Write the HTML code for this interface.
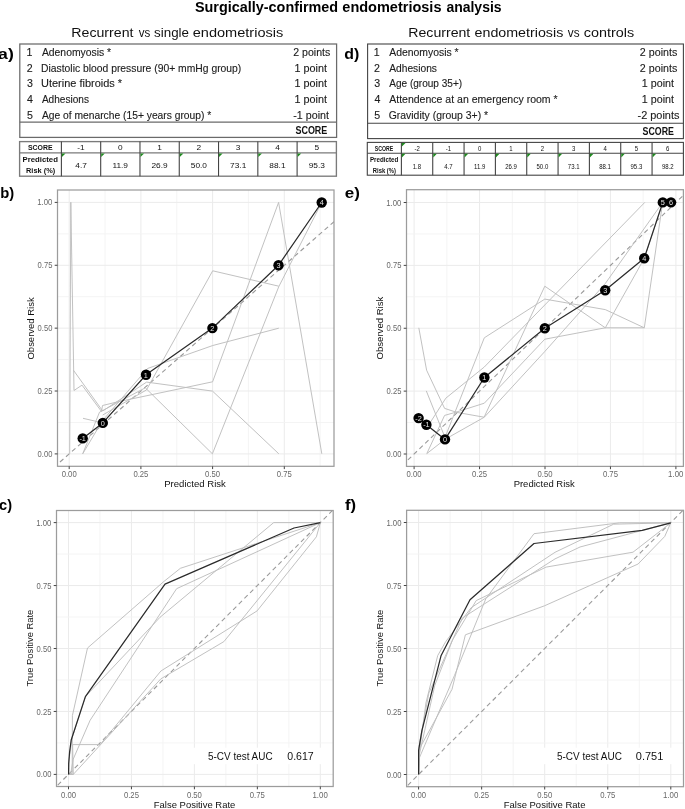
<!DOCTYPE html>
<html><head><meta charset="utf-8"><title>Surgically-confirmed endometriosis analysis</title>
<style>html,body{margin:0;padding:0;background:#fff;overflow:hidden;}svg{display:block;will-change:transform;}text{font-family:"Liberation Sans", sans-serif;}</style>
</head><body>
<svg width="685" height="809" viewBox="0 0 685 809" font-family='"Liberation Sans", sans-serif'>
<rect width="685" height="809" fill="#fff"/>
<text x="194.97" y="11.70" font-size="15.0" font-weight="bold" text-anchor="start" fill="#000" textLength="143.20" lengthAdjust="spacingAndGlyphs">Surgically-confirmed</text>
<text x="342.32" y="11.70" font-size="15.0" font-weight="bold" text-anchor="start" fill="#000" textLength="99.16" lengthAdjust="spacingAndGlyphs">endometriosis</text>
<text x="446.38" y="11.70" font-size="15.0" font-weight="bold" text-anchor="start" fill="#000" textLength="55.21" lengthAdjust="spacingAndGlyphs">analysis</text>
<text x="71.27" y="37.40" font-size="13.6" text-anchor="start" fill="#111" textLength="62.22" lengthAdjust="spacingAndGlyphs">Recurrent</text>
<text x="138.64" y="37.40" font-size="13.6" text-anchor="start" fill="#111" textLength="11.56" lengthAdjust="spacingAndGlyphs">vs</text>
<text x="154.10" y="37.40" font-size="13.6" text-anchor="start" fill="#111" textLength="34.94" lengthAdjust="spacingAndGlyphs">single</text>
<text x="192.72" y="37.40" font-size="13.6" text-anchor="start" fill="#111" textLength="90.60" lengthAdjust="spacingAndGlyphs">endometriosis</text>
<text x="408.27" y="37.30" font-size="13.6" text-anchor="start" fill="#111" textLength="62.01" lengthAdjust="spacingAndGlyphs">Recurrent</text>
<text x="474.53" y="37.30" font-size="13.6" text-anchor="start" fill="#111" textLength="88.77" lengthAdjust="spacingAndGlyphs">endometriosis</text>
<text x="567.84" y="37.30" font-size="13.6" text-anchor="start" fill="#111" textLength="11.77" lengthAdjust="spacingAndGlyphs">vs</text>
<text x="583.72" y="37.30" font-size="13.6" text-anchor="start" fill="#111" textLength="50.40" lengthAdjust="spacingAndGlyphs">controls</text>
<text x="-1.93" y="58.60" font-size="15.5" font-weight="bold" text-anchor="start" fill="#000" textLength="15.70" lengthAdjust="spacingAndGlyphs">a)</text>
<text x="344.26" y="58.60" font-size="15.5" font-weight="bold" text-anchor="start" fill="#000" textLength="15.01" lengthAdjust="spacingAndGlyphs">d)</text>
<text x="0.14" y="198.20" font-size="15.5" font-weight="bold" text-anchor="start" fill="#000" textLength="13.99" lengthAdjust="spacingAndGlyphs">b)</text>
<text x="344.72" y="198.20" font-size="15.5" font-weight="bold" text-anchor="start" fill="#000" textLength="15.12" lengthAdjust="spacingAndGlyphs">e)</text>
<text x="-0.89" y="510.20" font-size="15.5" font-weight="bold" text-anchor="start" fill="#000" textLength="13.00" lengthAdjust="spacingAndGlyphs">c)</text>
<text x="345.05" y="510.20" font-size="15.5" font-weight="bold" text-anchor="start" fill="#000" textLength="11.12" lengthAdjust="spacingAndGlyphs">f)</text>
<rect x="19.80" y="44.00" width="316.80" height="93.40" stroke="#6a6a6a" stroke-width="1.25" fill="none"/>
<line x1="19.80" y1="122.00" x2="336.60" y2="122.00" stroke="#6a6a6a" stroke-width="1.25"/>
<text x="26.50" y="55.70" font-size="10.6" text-anchor="start" fill="#1a1a1a" stroke="#222" stroke-width="0.12">1</text>
<text x="41.90" y="55.70" font-size="10.6" text-anchor="start" fill="#1a1a1a" textLength="69.26" lengthAdjust="spacingAndGlyphs" stroke="#222" stroke-width="0.12">Adenomyosis *</text>
<text x="293.27" y="55.70" font-size="10.6" text-anchor="start" fill="#1a1a1a" textLength="36.97" lengthAdjust="spacingAndGlyphs" stroke="#222" stroke-width="0.12">2 points</text>
<text x="26.77" y="71.60" font-size="10.6" text-anchor="start" fill="#1a1a1a" stroke="#222" stroke-width="0.12">2</text>
<text x="41.07" y="71.60" font-size="10.6" text-anchor="start" fill="#1a1a1a" textLength="200.20" lengthAdjust="spacingAndGlyphs" stroke="#222" stroke-width="0.12">Diastolic blood pressure (90+ mmHg group)</text>
<text x="294.49" y="71.60" font-size="10.6" text-anchor="start" fill="#1a1a1a" textLength="32.49" lengthAdjust="spacingAndGlyphs" stroke="#222" stroke-width="0.12">1 point</text>
<text x="26.88" y="87.40" font-size="10.6" text-anchor="start" fill="#1a1a1a" stroke="#222" stroke-width="0.12">3</text>
<text x="41.08" y="87.40" font-size="10.6" text-anchor="start" fill="#1a1a1a" textLength="80.96" lengthAdjust="spacingAndGlyphs" stroke="#222" stroke-width="0.12">Uterine fibroids *</text>
<text x="294.49" y="87.40" font-size="10.6" text-anchor="start" fill="#1a1a1a" textLength="32.49" lengthAdjust="spacingAndGlyphs" stroke="#222" stroke-width="0.12">1 point</text>
<text x="27.09" y="103.10" font-size="10.6" text-anchor="start" fill="#1a1a1a" stroke="#222" stroke-width="0.12">4</text>
<text x="41.90" y="103.10" font-size="10.6" text-anchor="start" fill="#1a1a1a" textLength="47.05" lengthAdjust="spacingAndGlyphs" stroke="#222" stroke-width="0.12">Adhesions</text>
<text x="294.49" y="103.10" font-size="10.6" text-anchor="start" fill="#1a1a1a" textLength="32.49" lengthAdjust="spacingAndGlyphs" stroke="#222" stroke-width="0.12">1 point</text>
<text x="26.88" y="118.90" font-size="10.6" text-anchor="start" fill="#1a1a1a" stroke="#222" stroke-width="0.12">5</text>
<text x="41.90" y="118.90" font-size="10.6" text-anchor="start" fill="#1a1a1a" textLength="169.42" lengthAdjust="spacingAndGlyphs" stroke="#222" stroke-width="0.12">Age of menarche (15+ years group) *</text>
<text x="293.32" y="118.90" font-size="10.6" text-anchor="start" fill="#1a1a1a" textLength="35.64" lengthAdjust="spacingAndGlyphs" stroke="#222" stroke-width="0.12">-1 point</text>
<text x="295.43" y="133.90" font-size="10.4" font-weight="bold" text-anchor="start" fill="#111" textLength="31.89" lengthAdjust="spacingAndGlyphs">SCORE</text>
<rect x="367.60" y="44.00" width="315.80" height="94.60" stroke="#444" stroke-width="1.1" fill="none"/>
<line x1="367.60" y1="123.30" x2="683.40" y2="123.30" stroke="#444" stroke-width="1.1"/>
<text x="373.81" y="55.70" font-size="10.6" text-anchor="start" fill="#1a1a1a" stroke="#222" stroke-width="0.12">1</text>
<text x="389.20" y="55.70" font-size="10.6" text-anchor="start" fill="#1a1a1a" textLength="69.46" lengthAdjust="spacingAndGlyphs" stroke="#222" stroke-width="0.12">Adenomyosis *</text>
<text x="639.87" y="55.70" font-size="10.6" text-anchor="start" fill="#1a1a1a" textLength="37.38" lengthAdjust="spacingAndGlyphs" stroke="#222" stroke-width="0.12">2 points</text>
<text x="374.07" y="71.60" font-size="10.6" text-anchor="start" fill="#1a1a1a" stroke="#222" stroke-width="0.12">2</text>
<text x="389.20" y="71.60" font-size="10.6" text-anchor="start" fill="#1a1a1a" textLength="47.76" lengthAdjust="spacingAndGlyphs" stroke="#222" stroke-width="0.12">Adhesions</text>
<text x="639.87" y="71.60" font-size="10.6" text-anchor="start" fill="#1a1a1a" textLength="37.38" lengthAdjust="spacingAndGlyphs" stroke="#222" stroke-width="0.12">2 points</text>
<text x="374.18" y="87.40" font-size="10.6" text-anchor="start" fill="#1a1a1a" stroke="#222" stroke-width="0.12">3</text>
<text x="389.20" y="87.40" font-size="10.6" text-anchor="start" fill="#1a1a1a" textLength="72.96" lengthAdjust="spacingAndGlyphs" stroke="#222" stroke-width="0.12">Age (group 35+)</text>
<text x="641.80" y="87.40" font-size="10.6" text-anchor="start" fill="#1a1a1a" textLength="32.18" lengthAdjust="spacingAndGlyphs" stroke="#222" stroke-width="0.12">1 point</text>
<text x="374.39" y="103.10" font-size="10.6" text-anchor="start" fill="#1a1a1a" stroke="#222" stroke-width="0.12">4</text>
<text x="389.20" y="103.10" font-size="10.6" text-anchor="start" fill="#1a1a1a" textLength="168.45" lengthAdjust="spacingAndGlyphs" stroke="#222" stroke-width="0.12">Attendence at an emergency room *</text>
<text x="641.80" y="103.10" font-size="10.6" text-anchor="start" fill="#1a1a1a" textLength="32.18" lengthAdjust="spacingAndGlyphs" stroke="#222" stroke-width="0.12">1 point</text>
<text x="374.18" y="118.90" font-size="10.6" text-anchor="start" fill="#1a1a1a" stroke="#222" stroke-width="0.12">5</text>
<text x="388.68" y="118.90" font-size="10.6" text-anchor="start" fill="#1a1a1a" textLength="99.45" lengthAdjust="spacingAndGlyphs" stroke="#222" stroke-width="0.12">Gravidity (group 3+) *</text>
<text x="637.51" y="118.90" font-size="10.6" text-anchor="start" fill="#1a1a1a" textLength="41.88" lengthAdjust="spacingAndGlyphs" stroke="#222" stroke-width="0.12">-2 points</text>
<text x="642.54" y="134.70" font-size="10.4" font-weight="bold" text-anchor="start" fill="#111" textLength="31.38" lengthAdjust="spacingAndGlyphs">SCORE</text>
<rect x="19.60" y="141.60" width="316.80" height="34.60" stroke="#7a7a7a" stroke-width="1.35" fill="none"/>
<line x1="19.60" y1="152.90" x2="336.40" y2="152.90" stroke="#7a7a7a" stroke-width="1.35"/>
<line x1="61.40" y1="141.60" x2="61.40" y2="176.20" stroke="#444" stroke-width="1.1"/>
<line x1="100.69" y1="141.60" x2="100.69" y2="176.20" stroke="#444" stroke-width="1.1"/>
<line x1="139.97" y1="141.60" x2="139.97" y2="176.20" stroke="#444" stroke-width="1.1"/>
<line x1="179.26" y1="141.60" x2="179.26" y2="176.20" stroke="#444" stroke-width="1.1"/>
<line x1="218.54" y1="141.60" x2="218.54" y2="176.20" stroke="#444" stroke-width="1.1"/>
<line x1="257.83" y1="141.60" x2="257.83" y2="176.20" stroke="#444" stroke-width="1.1"/>
<line x1="297.11" y1="141.60" x2="297.11" y2="176.20" stroke="#444" stroke-width="1.1"/>
<text x="27.99" y="150.10" font-size="7.8" font-weight="bold" text-anchor="start" fill="#111" textLength="24.66" lengthAdjust="spacingAndGlyphs">SCORE</text>
<text x="22.49" y="161.70" font-size="7.5" font-weight="bold" text-anchor="start" fill="#111" textLength="35.43" lengthAdjust="spacingAndGlyphs">Predicted</text>
<text x="26.02" y="172.80" font-size="7.5" font-weight="bold" text-anchor="start" fill="#111" textLength="29.15" lengthAdjust="spacingAndGlyphs">Risk (%)</text>
<text x="77.34" y="150.20" font-size="7.7" text-anchor="start" fill="#111" textLength="7.39" lengthAdjust="spacingAndGlyphs">-1</text>
<text x="75.39" y="168.20" font-size="7.7" text-anchor="start" fill="#111" textLength="11.56" lengthAdjust="spacingAndGlyphs">4.7</text>
<path d="M61.90 153.50 L65.50 153.50 L61.90 157.10 Z" fill="#1f8a1f"/>
<text x="118.00" y="150.20" font-size="7.7" text-anchor="start" fill="#111" textLength="4.63" lengthAdjust="spacingAndGlyphs">0</text>
<text x="112.43" y="168.20" font-size="7.7" text-anchor="start" fill="#111" textLength="15.57" lengthAdjust="spacingAndGlyphs">11.9</text>
<path d="M101.19 153.50 L104.79 153.50 L101.19 157.10 Z" fill="#1f8a1f"/>
<text x="157.18" y="150.20" font-size="7.7" text-anchor="start" fill="#111" textLength="4.63" lengthAdjust="spacingAndGlyphs">1</text>
<text x="151.51" y="168.20" font-size="7.7" text-anchor="start" fill="#111" textLength="16.19" lengthAdjust="spacingAndGlyphs">26.9</text>
<path d="M140.47 153.50 L144.07 153.50 L140.47 157.10 Z" fill="#1f8a1f"/>
<text x="196.59" y="150.20" font-size="7.7" text-anchor="start" fill="#111" textLength="4.63" lengthAdjust="spacingAndGlyphs">2</text>
<text x="190.79" y="168.20" font-size="7.7" text-anchor="start" fill="#111" textLength="16.19" lengthAdjust="spacingAndGlyphs">50.0</text>
<path d="M179.76 153.50 L183.36 153.50 L179.76 157.10 Z" fill="#1f8a1f"/>
<text x="235.88" y="150.20" font-size="7.7" text-anchor="start" fill="#111" textLength="4.63" lengthAdjust="spacingAndGlyphs">3</text>
<text x="230.08" y="168.20" font-size="7.7" text-anchor="start" fill="#111" textLength="16.19" lengthAdjust="spacingAndGlyphs">73.1</text>
<path d="M219.04 153.50 L222.64 153.50 L219.04 157.10 Z" fill="#1f8a1f"/>
<text x="275.21" y="150.20" font-size="7.7" text-anchor="start" fill="#111" textLength="4.63" lengthAdjust="spacingAndGlyphs">4</text>
<text x="269.38" y="168.20" font-size="7.7" text-anchor="start" fill="#111" textLength="16.19" lengthAdjust="spacingAndGlyphs">88.1</text>
<path d="M258.33 153.50 L261.93 153.50 L258.33 157.10 Z" fill="#1f8a1f"/>
<text x="314.45" y="150.20" font-size="7.7" text-anchor="start" fill="#111" textLength="4.63" lengthAdjust="spacingAndGlyphs">5</text>
<text x="308.65" y="168.20" font-size="7.7" text-anchor="start" fill="#111" textLength="16.19" lengthAdjust="spacingAndGlyphs">95.3</text>
<path d="M297.61 153.50 L301.21 153.50 L297.61 157.10 Z" fill="#1f8a1f"/>
<rect x="367.30" y="142.40" width="316.10" height="32.80" stroke="#444" stroke-width="1.1" fill="none"/>
<line x1="367.30" y1="153.20" x2="683.40" y2="153.20" stroke="#444" stroke-width="1.1"/>
<line x1="401.40" y1="142.40" x2="401.40" y2="175.20" stroke="#444" stroke-width="1.1"/>
<line x1="432.73" y1="142.40" x2="432.73" y2="175.20" stroke="#444" stroke-width="1.1"/>
<line x1="464.07" y1="142.40" x2="464.07" y2="175.20" stroke="#444" stroke-width="1.1"/>
<line x1="495.40" y1="142.40" x2="495.40" y2="175.20" stroke="#444" stroke-width="1.1"/>
<line x1="526.73" y1="142.40" x2="526.73" y2="175.20" stroke="#444" stroke-width="1.1"/>
<line x1="558.07" y1="142.40" x2="558.07" y2="175.20" stroke="#444" stroke-width="1.1"/>
<line x1="589.40" y1="142.40" x2="589.40" y2="175.20" stroke="#444" stroke-width="1.1"/>
<line x1="620.73" y1="142.40" x2="620.73" y2="175.20" stroke="#444" stroke-width="1.1"/>
<line x1="652.07" y1="142.40" x2="652.07" y2="175.20" stroke="#444" stroke-width="1.1"/>
<text x="374.74" y="150.90" font-size="7.4" font-weight="bold" text-anchor="start" fill="#111" textLength="18.44" lengthAdjust="spacingAndGlyphs">SCORE</text>
<text x="369.89" y="161.60" font-size="7.4" font-weight="bold" text-anchor="start" fill="#111" textLength="28.42" lengthAdjust="spacingAndGlyphs">Predicted</text>
<text x="372.82" y="172.70" font-size="7.4" font-weight="bold" text-anchor="start" fill="#111" textLength="23.07" lengthAdjust="spacingAndGlyphs">Risk (%)</text>
<text x="414.40" y="151.00" font-size="7.0" text-anchor="start" fill="#111" textLength="5.35" lengthAdjust="spacingAndGlyphs">-2</text>
<text x="412.78" y="168.50" font-size="7.0" text-anchor="start" fill="#111" textLength="8.37" lengthAdjust="spacingAndGlyphs">1.8</text>
<path d="M401.90 153.80 L405.50 153.80 L401.90 157.40 Z" fill="#1f8a1f"/>
<path d="M401.90 142.90 L405.50 142.90 L401.90 146.50 Z" fill="#1f8a1f"/>
<text x="445.72" y="151.00" font-size="7.0" text-anchor="start" fill="#111" textLength="5.35" lengthAdjust="spacingAndGlyphs">-1</text>
<text x="444.31" y="168.50" font-size="7.0" text-anchor="start" fill="#111" textLength="8.37" lengthAdjust="spacingAndGlyphs">4.7</text>
<path d="M433.23 153.80 L436.83 153.80 L433.23 157.40 Z" fill="#1f8a1f"/>
<text x="478.05" y="151.00" font-size="7.0" text-anchor="start" fill="#111" textLength="3.35" lengthAdjust="spacingAndGlyphs">0</text>
<text x="474.01" y="168.50" font-size="7.0" text-anchor="start" fill="#111" textLength="11.27" lengthAdjust="spacingAndGlyphs">11.9</text>
<path d="M464.57 153.80 L468.17 153.80 L464.57 157.40 Z" fill="#1f8a1f"/>
<text x="509.31" y="151.00" font-size="7.0" text-anchor="start" fill="#111" textLength="3.35" lengthAdjust="spacingAndGlyphs">1</text>
<text x="505.20" y="168.50" font-size="7.0" text-anchor="start" fill="#111" textLength="11.72" lengthAdjust="spacingAndGlyphs">26.9</text>
<path d="M495.90 153.80 L499.50 153.80 L495.90 157.40 Z" fill="#1f8a1f"/>
<text x="540.73" y="151.00" font-size="7.0" text-anchor="start" fill="#111" textLength="3.35" lengthAdjust="spacingAndGlyphs">2</text>
<text x="536.53" y="168.50" font-size="7.0" text-anchor="start" fill="#111" textLength="11.72" lengthAdjust="spacingAndGlyphs">50.0</text>
<path d="M527.23 153.80 L530.83 153.80 L527.23 157.40 Z" fill="#1f8a1f"/>
<text x="572.06" y="151.00" font-size="7.0" text-anchor="start" fill="#111" textLength="3.35" lengthAdjust="spacingAndGlyphs">3</text>
<text x="567.86" y="168.50" font-size="7.0" text-anchor="start" fill="#111" textLength="11.72" lengthAdjust="spacingAndGlyphs">73.1</text>
<path d="M558.57 153.80 L562.17 153.80 L558.57 157.40 Z" fill="#1f8a1f"/>
<text x="603.43" y="151.00" font-size="7.0" text-anchor="start" fill="#111" textLength="3.35" lengthAdjust="spacingAndGlyphs">4</text>
<text x="599.21" y="168.50" font-size="7.0" text-anchor="start" fill="#111" textLength="11.72" lengthAdjust="spacingAndGlyphs">88.1</text>
<path d="M589.90 153.80 L593.50 153.80 L589.90 157.40 Z" fill="#1f8a1f"/>
<text x="634.73" y="151.00" font-size="7.0" text-anchor="start" fill="#111" textLength="3.35" lengthAdjust="spacingAndGlyphs">5</text>
<text x="630.53" y="168.50" font-size="7.0" text-anchor="start" fill="#111" textLength="11.72" lengthAdjust="spacingAndGlyphs">95.3</text>
<path d="M621.23 153.80 L624.83 153.80 L621.23 157.40 Z" fill="#1f8a1f"/>
<text x="666.03" y="151.00" font-size="7.0" text-anchor="start" fill="#111" textLength="3.35" lengthAdjust="spacingAndGlyphs">6</text>
<text x="661.89" y="168.50" font-size="7.0" text-anchor="start" fill="#111" textLength="11.72" lengthAdjust="spacingAndGlyphs">98.2</text>
<path d="M652.57 153.80 L656.17 153.80 L652.57 157.40 Z" fill="#1f8a1f"/>
<clipPath id="cp1"><rect x="57.5" y="190.0" width="276.50" height="276.30"/></clipPath>
<g clip-path="url(#cp1)">
<line x1="69.20" y1="190.00" x2="69.20" y2="466.30" stroke="#ebebeb" stroke-width="1.0"/>
<line x1="105.05" y1="190.00" x2="105.05" y2="466.30" stroke="#f3f3f3" stroke-width="0.9"/>
<line x1="140.90" y1="190.00" x2="140.90" y2="466.30" stroke="#ebebeb" stroke-width="1.0"/>
<line x1="176.75" y1="190.00" x2="176.75" y2="466.30" stroke="#f3f3f3" stroke-width="0.9"/>
<line x1="212.60" y1="190.00" x2="212.60" y2="466.30" stroke="#ebebeb" stroke-width="1.0"/>
<line x1="248.45" y1="190.00" x2="248.45" y2="466.30" stroke="#f3f3f3" stroke-width="0.9"/>
<line x1="284.30" y1="190.00" x2="284.30" y2="466.30" stroke="#ebebeb" stroke-width="1.0"/>
<line x1="320.15" y1="190.00" x2="320.15" y2="466.30" stroke="#f3f3f3" stroke-width="0.9"/>
<line x1="57.50" y1="453.90" x2="334.00" y2="453.90" stroke="#ebebeb" stroke-width="1.0"/>
<line x1="57.50" y1="422.46" x2="334.00" y2="422.46" stroke="#f3f3f3" stroke-width="0.9"/>
<line x1="57.50" y1="391.02" x2="334.00" y2="391.02" stroke="#ebebeb" stroke-width="1.0"/>
<line x1="57.50" y1="359.59" x2="334.00" y2="359.59" stroke="#f3f3f3" stroke-width="0.9"/>
<line x1="57.50" y1="328.15" x2="334.00" y2="328.15" stroke="#ebebeb" stroke-width="1.0"/>
<line x1="57.50" y1="296.71" x2="334.00" y2="296.71" stroke="#f3f3f3" stroke-width="0.9"/>
<line x1="57.50" y1="265.27" x2="334.00" y2="265.27" stroke="#ebebeb" stroke-width="1.0"/>
<line x1="57.50" y1="233.84" x2="334.00" y2="233.84" stroke="#f3f3f3" stroke-width="0.9"/>
<line x1="57.50" y1="202.40" x2="334.00" y2="202.40" stroke="#ebebeb" stroke-width="1.0"/>
<line x1="11.84" y1="504.20" x2="413.36" y2="152.10" stroke="#9a9a9a" stroke-width="1.1" stroke-dasharray="4.6 3.4"/>
<polyline points="69.7,453.8 70.8,202.3 74.0,390.5 82.0,385.1 101.5,411.5 102.5,405.5 117.0,402.0 212.6,381.8 278.6,202.4 321.8,453.8" fill="none" stroke="#bebebe" stroke-width="0.95" stroke-linejoin="round"/>
<polyline points="73.5,370.3 102.7,411.0 146.6,382.1 212.5,391.1 278.8,453.8" fill="none" stroke="#bebebe" stroke-width="0.95" stroke-linejoin="round"/>
<polyline points="83.0,418.3 102.7,422.9 146.0,374.7" fill="none" stroke="#bebebe" stroke-width="0.95" stroke-linejoin="round"/>
<polyline points="82.7,453.8 99.5,412.2 145.3,387.8 212.4,453.8 278.8,286.6 321.8,202.4" fill="none" stroke="#bebebe" stroke-width="0.95" stroke-linejoin="round"/>
<polyline points="82.7,453.8 102.4,420.8 147.5,368.5 212.8,345.5 278.8,328.2" fill="none" stroke="#bebebe" stroke-width="0.95" stroke-linejoin="round"/>
<polyline points="102.7,415.0 146.4,390.0 212.7,270.8 278.8,286.2" fill="none" stroke="#bebebe" stroke-width="0.95" stroke-linejoin="round"/>
<polyline points="82.7,438.4 102.8,422.9 146.0,374.8 212.4,328.1 278.5,265.3 321.7,202.5" fill="none" stroke="#2b2b2b" stroke-width="1.25" stroke-linejoin="round"/>
</g>
<rect x="57.50" y="190.00" width="276.50" height="276.30" stroke="#9c9c9c" stroke-width="1.25" fill="none"/>
<line x1="69.20" y1="466.30" x2="69.20" y2="469.10" stroke="#444" stroke-width="1"/>
<text x="61.69" y="477.30" font-size="8.6" text-anchor="start" fill="#686868" textLength="14.99" lengthAdjust="spacingAndGlyphs">0.00</text>
<line x1="140.90" y1="466.30" x2="140.90" y2="469.10" stroke="#444" stroke-width="1"/>
<text x="133.39" y="477.30" font-size="8.6" text-anchor="start" fill="#686868" textLength="15.03" lengthAdjust="spacingAndGlyphs">0.25</text>
<line x1="212.60" y1="466.30" x2="212.60" y2="469.10" stroke="#444" stroke-width="1"/>
<text x="205.09" y="477.30" font-size="8.6" text-anchor="start" fill="#686868" textLength="14.99" lengthAdjust="spacingAndGlyphs">0.50</text>
<line x1="284.30" y1="466.30" x2="284.30" y2="469.10" stroke="#444" stroke-width="1"/>
<text x="276.79" y="477.30" font-size="8.6" text-anchor="start" fill="#686868" textLength="15.03" lengthAdjust="spacingAndGlyphs">0.75</text>
<line x1="54.70" y1="453.90" x2="57.50" y2="453.90" stroke="#444" stroke-width="1"/>
<text x="37.60" y="456.95" font-size="8.6" text-anchor="start" fill="#686868" textLength="14.78" lengthAdjust="spacingAndGlyphs">0.00</text>
<line x1="54.70" y1="391.02" x2="57.50" y2="391.02" stroke="#444" stroke-width="1"/>
<text x="37.60" y="394.07" font-size="8.6" text-anchor="start" fill="#686868" textLength="14.82" lengthAdjust="spacingAndGlyphs">0.25</text>
<line x1="54.70" y1="328.15" x2="57.50" y2="328.15" stroke="#444" stroke-width="1"/>
<text x="37.60" y="331.20" font-size="8.6" text-anchor="start" fill="#686868" textLength="14.78" lengthAdjust="spacingAndGlyphs">0.50</text>
<line x1="54.70" y1="265.27" x2="57.50" y2="265.27" stroke="#444" stroke-width="1"/>
<text x="37.60" y="268.32" font-size="8.6" text-anchor="start" fill="#686868" textLength="14.82" lengthAdjust="spacingAndGlyphs">0.75</text>
<line x1="54.70" y1="202.40" x2="57.50" y2="202.40" stroke="#444" stroke-width="1"/>
<text x="37.32" y="205.45" font-size="8.6" text-anchor="start" fill="#686868" textLength="15.06" lengthAdjust="spacingAndGlyphs">1.00</text>
<text x="164.23" y="487.30" font-size="9.8" text-anchor="start" fill="#111" textLength="61.68" lengthAdjust="spacingAndGlyphs">Predicted Risk</text>
<text transform="translate(34.20,359.10) rotate(-90)" x="-0.43" y="0" font-size="9.8" fill="#111" textLength="62.21" lengthAdjust="spacingAndGlyphs">Observed Risk</text>
<circle cx="82.7" cy="438.4" r="5.2" fill="#000"/>
<text x="79.44" y="441.15" font-size="7.7" text-anchor="start" fill="#e2e2e2" textLength="6.50" lengthAdjust="spacingAndGlyphs">-1</text>
<circle cx="102.8" cy="422.9" r="5.2" fill="#000"/>
<text x="100.75" y="425.65" font-size="7.7" text-anchor="start" fill="#e2e2e2" textLength="4.07" lengthAdjust="spacingAndGlyphs">0</text>
<circle cx="146.0" cy="374.8" r="5.2" fill="#000"/>
<text x="143.86" y="377.55" font-size="7.7" text-anchor="start" fill="#e2e2e2" textLength="4.07" lengthAdjust="spacingAndGlyphs">1</text>
<circle cx="212.4" cy="328.1" r="5.2" fill="#000"/>
<text x="210.37" y="330.85" font-size="7.7" text-anchor="start" fill="#e2e2e2" textLength="4.07" lengthAdjust="spacingAndGlyphs">2</text>
<circle cx="278.5" cy="265.3" r="5.2" fill="#000"/>
<text x="276.47" y="268.05" font-size="7.7" text-anchor="start" fill="#e2e2e2" textLength="4.07" lengthAdjust="spacingAndGlyphs">3</text>
<circle cx="321.7" cy="202.5" r="5.2" fill="#000"/>
<text x="319.71" y="205.25" font-size="7.7" text-anchor="start" fill="#e2e2e2" textLength="4.07" lengthAdjust="spacingAndGlyphs">4</text>
<clipPath id="cp2"><rect x="406.5" y="189.7" width="276.90" height="276.70"/></clipPath>
<g clip-path="url(#cp2)">
<line x1="414.10" y1="189.70" x2="414.10" y2="466.40" stroke="#ebebeb" stroke-width="1.0"/>
<line x1="446.83" y1="189.70" x2="446.83" y2="466.40" stroke="#f3f3f3" stroke-width="0.9"/>
<line x1="479.55" y1="189.70" x2="479.55" y2="466.40" stroke="#ebebeb" stroke-width="1.0"/>
<line x1="512.28" y1="189.70" x2="512.28" y2="466.40" stroke="#f3f3f3" stroke-width="0.9"/>
<line x1="545.00" y1="189.70" x2="545.00" y2="466.40" stroke="#ebebeb" stroke-width="1.0"/>
<line x1="577.73" y1="189.70" x2="577.73" y2="466.40" stroke="#f3f3f3" stroke-width="0.9"/>
<line x1="610.45" y1="189.70" x2="610.45" y2="466.40" stroke="#ebebeb" stroke-width="1.0"/>
<line x1="643.18" y1="189.70" x2="643.18" y2="466.40" stroke="#f3f3f3" stroke-width="0.9"/>
<line x1="675.90" y1="189.70" x2="675.90" y2="466.40" stroke="#ebebeb" stroke-width="1.0"/>
<line x1="406.50" y1="454.00" x2="683.40" y2="454.00" stroke="#ebebeb" stroke-width="1.0"/>
<line x1="406.50" y1="422.56" x2="683.40" y2="422.56" stroke="#f3f3f3" stroke-width="0.9"/>
<line x1="406.50" y1="391.12" x2="683.40" y2="391.12" stroke="#ebebeb" stroke-width="1.0"/>
<line x1="406.50" y1="359.69" x2="683.40" y2="359.69" stroke="#f3f3f3" stroke-width="0.9"/>
<line x1="406.50" y1="328.25" x2="683.40" y2="328.25" stroke="#ebebeb" stroke-width="1.0"/>
<line x1="406.50" y1="296.81" x2="683.40" y2="296.81" stroke="#f3f3f3" stroke-width="0.9"/>
<line x1="406.50" y1="265.38" x2="683.40" y2="265.38" stroke="#ebebeb" stroke-width="1.0"/>
<line x1="406.50" y1="233.94" x2="683.40" y2="233.94" stroke="#f3f3f3" stroke-width="0.9"/>
<line x1="406.50" y1="202.50" x2="683.40" y2="202.50" stroke="#ebebeb" stroke-width="1.0"/>
<line x1="361.74" y1="504.30" x2="728.26" y2="152.20" stroke="#9a9a9a" stroke-width="1.1" stroke-dasharray="4.6 3.4"/>
<polyline points="418.8,327.8 426.6,370.2 444.6,408.4 456.9,412.4 484.1,417.2 544.8,286.2 605.3,327.8 644.3,327.8 662.7,202.4" fill="none" stroke="#bebebe" stroke-width="0.95" stroke-linejoin="round"/>
<polyline points="426.3,390.9 445.0,437.5 484.3,337.8 544.8,299.1 605.3,309.6 644.3,327.8" fill="none" stroke="#bebebe" stroke-width="0.95" stroke-linejoin="round"/>
<polyline points="426.8,453.6 444.6,415.4 456.9,411.9 484.3,403.2 544.8,339.2 605.3,327.8 644.3,258.3 662.7,202.4" fill="none" stroke="#bebebe" stroke-width="0.95" stroke-linejoin="round"/>
<polyline points="428.0,426.0 445.8,398.2 484.3,367.0 644.8,202.4" fill="none" stroke="#bebebe" stroke-width="0.95" stroke-linejoin="round"/>
<polyline points="426.8,453.6 445.1,439.3 484.3,417.2 544.8,351.5 605.3,283.5 662.7,202.4" fill="none" stroke="#bebebe" stroke-width="0.95" stroke-linejoin="round"/>
<polyline points="418.6,418.1 426.4,424.7 445.0,439.4 484.4,377.5 544.8,328.2 605.2,290.2 644.2,258.3 662.8,202.4 671.0,202.4" fill="none" stroke="#2b2b2b" stroke-width="1.25" stroke-linejoin="round"/>
</g>
<rect x="406.50" y="189.70" width="276.90" height="276.70" stroke="#9c9c9c" stroke-width="1.25" fill="none"/>
<line x1="414.10" y1="466.40" x2="414.10" y2="469.20" stroke="#444" stroke-width="1"/>
<text x="406.59" y="477.40" font-size="8.6" text-anchor="start" fill="#686868" textLength="14.99" lengthAdjust="spacingAndGlyphs">0.00</text>
<line x1="479.55" y1="466.40" x2="479.55" y2="469.20" stroke="#444" stroke-width="1"/>
<text x="472.04" y="477.40" font-size="8.6" text-anchor="start" fill="#686868" textLength="15.03" lengthAdjust="spacingAndGlyphs">0.25</text>
<line x1="545.00" y1="466.40" x2="545.00" y2="469.20" stroke="#444" stroke-width="1"/>
<text x="537.49" y="477.40" font-size="8.6" text-anchor="start" fill="#686868" textLength="14.99" lengthAdjust="spacingAndGlyphs">0.50</text>
<line x1="610.45" y1="466.40" x2="610.45" y2="469.20" stroke="#444" stroke-width="1"/>
<text x="602.94" y="477.40" font-size="8.6" text-anchor="start" fill="#686868" textLength="15.03" lengthAdjust="spacingAndGlyphs">0.75</text>
<line x1="675.90" y1="466.40" x2="675.90" y2="469.20" stroke="#444" stroke-width="1"/>
<text x="668.11" y="477.40" font-size="8.6" text-anchor="start" fill="#686868" textLength="15.27" lengthAdjust="spacingAndGlyphs">1.00</text>
<line x1="403.70" y1="454.00" x2="406.50" y2="454.00" stroke="#444" stroke-width="1"/>
<text x="386.60" y="457.05" font-size="8.6" text-anchor="start" fill="#686868" textLength="14.78" lengthAdjust="spacingAndGlyphs">0.00</text>
<line x1="403.70" y1="391.12" x2="406.50" y2="391.12" stroke="#444" stroke-width="1"/>
<text x="386.60" y="394.18" font-size="8.6" text-anchor="start" fill="#686868" textLength="14.82" lengthAdjust="spacingAndGlyphs">0.25</text>
<line x1="403.70" y1="328.25" x2="406.50" y2="328.25" stroke="#444" stroke-width="1"/>
<text x="386.60" y="331.30" font-size="8.6" text-anchor="start" fill="#686868" textLength="14.78" lengthAdjust="spacingAndGlyphs">0.50</text>
<line x1="403.70" y1="265.38" x2="406.50" y2="265.38" stroke="#444" stroke-width="1"/>
<text x="386.60" y="268.43" font-size="8.6" text-anchor="start" fill="#686868" textLength="14.82" lengthAdjust="spacingAndGlyphs">0.75</text>
<line x1="403.70" y1="202.50" x2="406.50" y2="202.50" stroke="#444" stroke-width="1"/>
<text x="386.32" y="205.55" font-size="8.6" text-anchor="start" fill="#686868" textLength="15.06" lengthAdjust="spacingAndGlyphs">1.00</text>
<text x="513.64" y="487.30" font-size="9.8" text-anchor="start" fill="#111" textLength="61.18" lengthAdjust="spacingAndGlyphs">Predicted Risk</text>
<text transform="translate(383.40,359.00) rotate(-90)" x="-0.43" y="0" font-size="9.8" fill="#111" textLength="62.71" lengthAdjust="spacingAndGlyphs">Observed Risk</text>
<circle cx="418.6" cy="418.1" r="5.2" fill="#000"/>
<text x="415.36" y="420.85" font-size="7.7" text-anchor="start" fill="#e2e2e2" textLength="6.50" lengthAdjust="spacingAndGlyphs">-2</text>
<circle cx="426.4" cy="424.7" r="5.2" fill="#000"/>
<text x="423.14" y="427.45" font-size="7.7" text-anchor="start" fill="#e2e2e2" textLength="6.50" lengthAdjust="spacingAndGlyphs">-1</text>
<circle cx="445.0" cy="439.4" r="5.2" fill="#000"/>
<text x="442.95" y="442.15" font-size="7.7" text-anchor="start" fill="#e2e2e2" textLength="4.07" lengthAdjust="spacingAndGlyphs">0</text>
<circle cx="484.4" cy="377.5" r="5.2" fill="#000"/>
<text x="482.26" y="380.25" font-size="7.7" text-anchor="start" fill="#e2e2e2" textLength="4.07" lengthAdjust="spacingAndGlyphs">1</text>
<circle cx="544.8" cy="328.2" r="5.2" fill="#000"/>
<text x="542.77" y="330.95" font-size="7.7" text-anchor="start" fill="#e2e2e2" textLength="4.07" lengthAdjust="spacingAndGlyphs">2</text>
<circle cx="605.2" cy="290.2" r="5.2" fill="#000"/>
<text x="603.17" y="292.95" font-size="7.7" text-anchor="start" fill="#e2e2e2" textLength="4.07" lengthAdjust="spacingAndGlyphs">3</text>
<circle cx="644.2" cy="258.3" r="5.2" fill="#000"/>
<text x="642.21" y="261.05" font-size="7.7" text-anchor="start" fill="#e2e2e2" textLength="4.07" lengthAdjust="spacingAndGlyphs">4</text>
<circle cx="662.8" cy="202.4" r="5.2" fill="#000"/>
<text x="660.77" y="205.15" font-size="7.7" text-anchor="start" fill="#e2e2e2" textLength="4.07" lengthAdjust="spacingAndGlyphs">5</text>
<circle cx="671.0" cy="202.4" r="5.2" fill="#000"/>
<text x="668.93" y="205.15" font-size="7.7" text-anchor="start" fill="#e2e2e2" textLength="4.07" lengthAdjust="spacingAndGlyphs">6</text>
<clipPath id="cp3"><rect x="56.5" y="510.5" width="276.70" height="276.00"/></clipPath>
<g clip-path="url(#cp3)">
<line x1="68.50" y1="510.50" x2="68.50" y2="786.50" stroke="#ebebeb" stroke-width="1.0"/>
<line x1="99.97" y1="510.50" x2="99.97" y2="786.50" stroke="#f3f3f3" stroke-width="0.9"/>
<line x1="131.45" y1="510.50" x2="131.45" y2="786.50" stroke="#ebebeb" stroke-width="1.0"/>
<line x1="162.93" y1="510.50" x2="162.93" y2="786.50" stroke="#f3f3f3" stroke-width="0.9"/>
<line x1="194.40" y1="510.50" x2="194.40" y2="786.50" stroke="#ebebeb" stroke-width="1.0"/>
<line x1="225.88" y1="510.50" x2="225.88" y2="786.50" stroke="#f3f3f3" stroke-width="0.9"/>
<line x1="257.35" y1="510.50" x2="257.35" y2="786.50" stroke="#ebebeb" stroke-width="1.0"/>
<line x1="288.83" y1="510.50" x2="288.83" y2="786.50" stroke="#f3f3f3" stroke-width="0.9"/>
<line x1="320.30" y1="510.50" x2="320.30" y2="786.50" stroke="#ebebeb" stroke-width="1.0"/>
<line x1="56.50" y1="774.40" x2="333.20" y2="774.40" stroke="#ebebeb" stroke-width="1.0"/>
<line x1="56.50" y1="742.92" x2="333.20" y2="742.92" stroke="#f3f3f3" stroke-width="0.9"/>
<line x1="56.50" y1="711.45" x2="333.20" y2="711.45" stroke="#ebebeb" stroke-width="1.0"/>
<line x1="56.50" y1="679.97" x2="333.20" y2="679.97" stroke="#f3f3f3" stroke-width="0.9"/>
<line x1="56.50" y1="648.50" x2="333.20" y2="648.50" stroke="#ebebeb" stroke-width="1.0"/>
<line x1="56.50" y1="617.02" x2="333.20" y2="617.02" stroke="#f3f3f3" stroke-width="0.9"/>
<line x1="56.50" y1="585.55" x2="333.20" y2="585.55" stroke="#ebebeb" stroke-width="1.0"/>
<line x1="56.50" y1="554.07" x2="333.20" y2="554.07" stroke="#f3f3f3" stroke-width="0.9"/>
<line x1="56.50" y1="522.60" x2="333.20" y2="522.60" stroke="#ebebeb" stroke-width="1.0"/>
<rect x="186.0" y="747.7" width="147.0" height="16.5" fill="#fff"/>
<line x1="18.14" y1="824.76" x2="370.66" y2="472.24" stroke="#9a9a9a" stroke-width="1.1" stroke-dasharray="4.6 3.4"/>
<polyline points="68.5,774.4 72.2,773.5 72.4,715.6 87.5,648.0 164.1,581.3 180.4,568.3 320.4,522.6" fill="none" stroke="#bebebe" stroke-width="0.95" stroke-linejoin="round"/>
<polyline points="68.5,774.4 70.6,774.4 73.2,759.2 90.1,720.3 176.6,588.7 320.4,522.6" fill="none" stroke="#bebebe" stroke-width="0.95" stroke-linejoin="round"/>
<polyline points="68.5,774.4 69.0,760.0 72.0,738.0 85.6,696.4 160.0,617.3 273.7,522.6 320.4,522.6" fill="none" stroke="#bebebe" stroke-width="0.95" stroke-linejoin="round"/>
<polyline points="68.5,774.4 73.3,774.4 72.6,744.6 100.1,744.6 160.9,671.0 257.1,610.9 316.4,536.8 320.4,522.6" fill="none" stroke="#bebebe" stroke-width="0.95" stroke-linejoin="round"/>
<polyline points="68.5,774.4 73.3,774.4 160.9,678.8 223.9,641.6 320.4,522.6" fill="none" stroke="#bebebe" stroke-width="0.95" stroke-linejoin="round"/>
<polyline points="68.6,774.4 68.7,763.5 69.6,752.0 71.2,740.0 85.4,696.6 165.0,584.1 294.0,528.0 320.4,522.6" fill="none" stroke="#2b2b2b" stroke-width="1.25" stroke-linejoin="round"/>
</g>
<rect x="56.50" y="510.50" width="276.70" height="276.00" stroke="#9c9c9c" stroke-width="1.25" fill="none"/>
<line x1="68.50" y1="786.50" x2="68.50" y2="789.30" stroke="#444" stroke-width="1"/>
<text x="60.99" y="797.50" font-size="8.6" text-anchor="start" fill="#686868" textLength="14.99" lengthAdjust="spacingAndGlyphs">0.00</text>
<line x1="131.45" y1="786.50" x2="131.45" y2="789.30" stroke="#444" stroke-width="1"/>
<text x="123.94" y="797.50" font-size="8.6" text-anchor="start" fill="#686868" textLength="15.03" lengthAdjust="spacingAndGlyphs">0.25</text>
<line x1="194.40" y1="786.50" x2="194.40" y2="789.30" stroke="#444" stroke-width="1"/>
<text x="186.89" y="797.50" font-size="8.6" text-anchor="start" fill="#686868" textLength="14.99" lengthAdjust="spacingAndGlyphs">0.50</text>
<line x1="257.35" y1="786.50" x2="257.35" y2="789.30" stroke="#444" stroke-width="1"/>
<text x="249.84" y="797.50" font-size="8.6" text-anchor="start" fill="#686868" textLength="15.03" lengthAdjust="spacingAndGlyphs">0.75</text>
<line x1="320.30" y1="786.50" x2="320.30" y2="789.30" stroke="#444" stroke-width="1"/>
<text x="312.51" y="797.50" font-size="8.6" text-anchor="start" fill="#686868" textLength="15.27" lengthAdjust="spacingAndGlyphs">1.00</text>
<line x1="53.70" y1="774.40" x2="56.50" y2="774.40" stroke="#444" stroke-width="1"/>
<text x="36.60" y="777.45" font-size="8.6" text-anchor="start" fill="#686868" textLength="14.78" lengthAdjust="spacingAndGlyphs">0.00</text>
<line x1="53.70" y1="711.45" x2="56.50" y2="711.45" stroke="#444" stroke-width="1"/>
<text x="36.60" y="714.50" font-size="8.6" text-anchor="start" fill="#686868" textLength="14.82" lengthAdjust="spacingAndGlyphs">0.25</text>
<line x1="53.70" y1="648.50" x2="56.50" y2="648.50" stroke="#444" stroke-width="1"/>
<text x="36.60" y="651.55" font-size="8.6" text-anchor="start" fill="#686868" textLength="14.78" lengthAdjust="spacingAndGlyphs">0.50</text>
<line x1="53.70" y1="585.55" x2="56.50" y2="585.55" stroke="#444" stroke-width="1"/>
<text x="36.60" y="588.60" font-size="8.6" text-anchor="start" fill="#686868" textLength="14.82" lengthAdjust="spacingAndGlyphs">0.75</text>
<line x1="53.70" y1="522.60" x2="56.50" y2="522.60" stroke="#444" stroke-width="1"/>
<text x="36.32" y="525.65" font-size="8.6" text-anchor="start" fill="#686868" textLength="15.06" lengthAdjust="spacingAndGlyphs">1.00</text>
<text x="153.84" y="807.60" font-size="9.8" text-anchor="start" fill="#111" textLength="81.48" lengthAdjust="spacingAndGlyphs">False Positive Rate</text>
<text transform="translate(33.00,686.40) rotate(-90)" x="-0.19" y="0" font-size="9.8" fill="#111" textLength="76.90" lengthAdjust="spacingAndGlyphs">True Positive Rate</text>
<text x="208.00" y="760.10" font-size="11.2" text-anchor="start" fill="#111" textLength="64.57" lengthAdjust="spacingAndGlyphs">5-CV test AUC</text>
<text x="287.28" y="760.10" font-size="11.2" text-anchor="start" fill="#111" textLength="26.48" lengthAdjust="spacingAndGlyphs">0.617</text>
<clipPath id="cp4"><rect x="406.6" y="510.3" width="276.90" height="276.40"/></clipPath>
<g clip-path="url(#cp4)">
<line x1="418.60" y1="510.30" x2="418.60" y2="786.70" stroke="#ebebeb" stroke-width="1.0"/>
<line x1="450.12" y1="510.30" x2="450.12" y2="786.70" stroke="#f3f3f3" stroke-width="0.9"/>
<line x1="481.65" y1="510.30" x2="481.65" y2="786.70" stroke="#ebebeb" stroke-width="1.0"/>
<line x1="513.17" y1="510.30" x2="513.17" y2="786.70" stroke="#f3f3f3" stroke-width="0.9"/>
<line x1="544.70" y1="510.30" x2="544.70" y2="786.70" stroke="#ebebeb" stroke-width="1.0"/>
<line x1="576.23" y1="510.30" x2="576.23" y2="786.70" stroke="#f3f3f3" stroke-width="0.9"/>
<line x1="607.75" y1="510.30" x2="607.75" y2="786.70" stroke="#ebebeb" stroke-width="1.0"/>
<line x1="639.27" y1="510.30" x2="639.27" y2="786.70" stroke="#f3f3f3" stroke-width="0.9"/>
<line x1="670.80" y1="510.30" x2="670.80" y2="786.70" stroke="#ebebeb" stroke-width="1.0"/>
<line x1="406.60" y1="774.50" x2="683.50" y2="774.50" stroke="#ebebeb" stroke-width="1.0"/>
<line x1="406.60" y1="743.00" x2="683.50" y2="743.00" stroke="#f3f3f3" stroke-width="0.9"/>
<line x1="406.60" y1="711.50" x2="683.50" y2="711.50" stroke="#ebebeb" stroke-width="1.0"/>
<line x1="406.60" y1="680.00" x2="683.50" y2="680.00" stroke="#f3f3f3" stroke-width="0.9"/>
<line x1="406.60" y1="648.50" x2="683.50" y2="648.50" stroke="#ebebeb" stroke-width="1.0"/>
<line x1="406.60" y1="617.00" x2="683.50" y2="617.00" stroke="#f3f3f3" stroke-width="0.9"/>
<line x1="406.60" y1="585.50" x2="683.50" y2="585.50" stroke="#ebebeb" stroke-width="1.0"/>
<line x1="406.60" y1="554.00" x2="683.50" y2="554.00" stroke="#f3f3f3" stroke-width="0.9"/>
<line x1="406.60" y1="522.50" x2="683.50" y2="522.50" stroke="#ebebeb" stroke-width="1.0"/>
<rect x="536.0" y="747.7" width="147.0" height="16.5" fill="#fff"/>
<line x1="368.16" y1="824.90" x2="721.24" y2="472.10" stroke="#9a9a9a" stroke-width="1.1" stroke-dasharray="4.6 3.4"/>
<polyline points="418.6,774.4 419.6,757.3 454.5,675.4 485.8,598.8 534.0,533.7 619.7,522.8 670.8,522.8" fill="none" stroke="#bebebe" stroke-width="0.95" stroke-linejoin="round"/>
<polyline points="418.6,774.4 419.6,748.4 452.0,689.3 465.4,634.8 544.5,605.8 638.1,564.0 664.7,536.5 670.8,522.8" fill="none" stroke="#bebebe" stroke-width="0.95" stroke-linejoin="round"/>
<polyline points="418.6,774.4 418.6,758.4 425.9,703.1 437.7,655.6 445.6,641.8 471.0,607.8 555.0,552.3 613.6,524.2 670.8,522.8" fill="none" stroke="#bebebe" stroke-width="0.95" stroke-linejoin="round"/>
<polyline points="418.6,774.4 419.0,756.0 434.8,685.3 452.5,640.0 476.2,600.6 546.1,567.1 633.0,552.2 670.8,522.8" fill="none" stroke="#bebebe" stroke-width="0.95" stroke-linejoin="round"/>
<polyline points="418.6,774.4 418.6,748.5 428.8,693.2 462.3,618.0 555.0,558.9 580.0,547.0 670.8,522.8" fill="none" stroke="#bebebe" stroke-width="0.95" stroke-linejoin="round"/>
<polyline points="418.6,774.4 418.6,750.5 421.9,730.7 441.0,655.8 470.0,599.7 534.0,543.5 642.2,530.3 670.8,522.8" fill="none" stroke="#2b2b2b" stroke-width="1.25" stroke-linejoin="round"/>
</g>
<rect x="406.60" y="510.30" width="276.90" height="276.40" stroke="#9c9c9c" stroke-width="1.25" fill="none"/>
<line x1="418.60" y1="786.70" x2="418.60" y2="789.50" stroke="#444" stroke-width="1"/>
<text x="411.09" y="797.70" font-size="8.6" text-anchor="start" fill="#686868" textLength="14.99" lengthAdjust="spacingAndGlyphs">0.00</text>
<line x1="481.65" y1="786.70" x2="481.65" y2="789.50" stroke="#444" stroke-width="1"/>
<text x="474.14" y="797.70" font-size="8.6" text-anchor="start" fill="#686868" textLength="15.03" lengthAdjust="spacingAndGlyphs">0.25</text>
<line x1="544.70" y1="786.70" x2="544.70" y2="789.50" stroke="#444" stroke-width="1"/>
<text x="537.19" y="797.70" font-size="8.6" text-anchor="start" fill="#686868" textLength="14.99" lengthAdjust="spacingAndGlyphs">0.50</text>
<line x1="607.75" y1="786.70" x2="607.75" y2="789.50" stroke="#444" stroke-width="1"/>
<text x="600.24" y="797.70" font-size="8.6" text-anchor="start" fill="#686868" textLength="15.03" lengthAdjust="spacingAndGlyphs">0.75</text>
<line x1="670.80" y1="786.70" x2="670.80" y2="789.50" stroke="#444" stroke-width="1"/>
<text x="663.01" y="797.70" font-size="8.6" text-anchor="start" fill="#686868" textLength="15.27" lengthAdjust="spacingAndGlyphs">1.00</text>
<line x1="403.80" y1="774.50" x2="406.60" y2="774.50" stroke="#444" stroke-width="1"/>
<text x="386.70" y="777.55" font-size="8.6" text-anchor="start" fill="#686868" textLength="14.78" lengthAdjust="spacingAndGlyphs">0.00</text>
<line x1="403.80" y1="711.50" x2="406.60" y2="711.50" stroke="#444" stroke-width="1"/>
<text x="386.70" y="714.55" font-size="8.6" text-anchor="start" fill="#686868" textLength="14.82" lengthAdjust="spacingAndGlyphs">0.25</text>
<line x1="403.80" y1="648.50" x2="406.60" y2="648.50" stroke="#444" stroke-width="1"/>
<text x="386.70" y="651.55" font-size="8.6" text-anchor="start" fill="#686868" textLength="14.78" lengthAdjust="spacingAndGlyphs">0.50</text>
<line x1="403.80" y1="585.50" x2="406.60" y2="585.50" stroke="#444" stroke-width="1"/>
<text x="386.70" y="588.55" font-size="8.6" text-anchor="start" fill="#686868" textLength="14.82" lengthAdjust="spacingAndGlyphs">0.75</text>
<line x1="403.80" y1="522.50" x2="406.60" y2="522.50" stroke="#444" stroke-width="1"/>
<text x="386.42" y="525.55" font-size="8.6" text-anchor="start" fill="#686868" textLength="15.06" lengthAdjust="spacingAndGlyphs">1.00</text>
<text x="503.74" y="807.60" font-size="9.8" text-anchor="start" fill="#111" textLength="81.68" lengthAdjust="spacingAndGlyphs">False Positive Rate</text>
<text transform="translate(383.00,686.40) rotate(-90)" x="-0.19" y="0" font-size="9.8" fill="#111" textLength="76.90" lengthAdjust="spacingAndGlyphs">True Positive Rate</text>
<text x="557.00" y="759.90" font-size="11.2" text-anchor="start" fill="#111" textLength="64.87" lengthAdjust="spacingAndGlyphs">5-CV test AUC</text>
<text x="635.86" y="759.90" font-size="11.2" text-anchor="start" fill="#111" textLength="27.46" lengthAdjust="spacingAndGlyphs">0.751</text>
</svg>
</body></html>
